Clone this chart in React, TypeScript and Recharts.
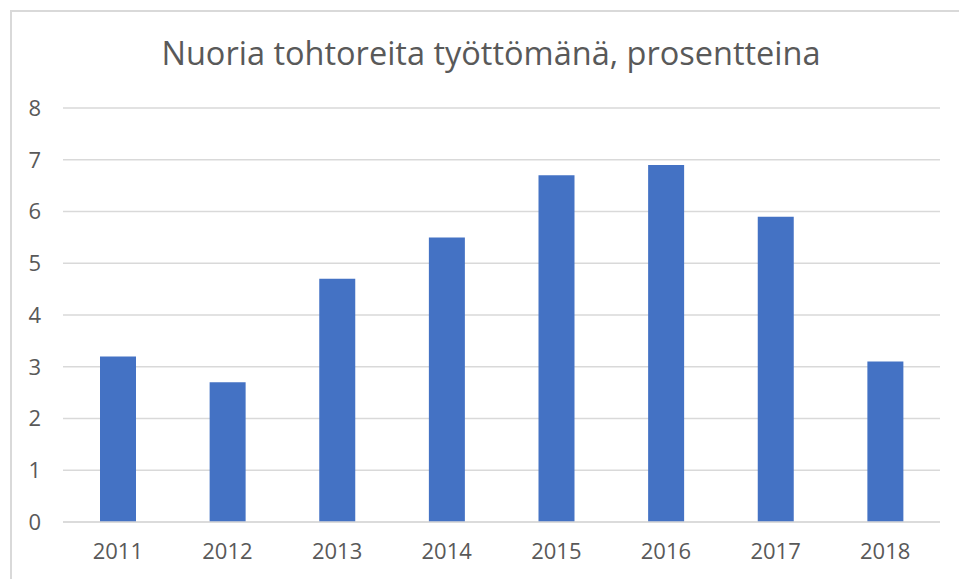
import { BarChart, Bar, XAxis, YAxis, CartesianGrid } from "recharts"

const years = ["2011", "2012", "2013", "2014", "2015", "2016", "2017", "2018"]
const unemployed = [3.2, 2.7, 4.7, 5.5, 6.7, 6.9, 5.9, 3.1]
const yTicks = [0, 1, 2, 3, 4, 5, 6, 7, 8]

const data = years.map((year, i) => ({ year, value: unemployed[i] }))

const font = "'Open Sans', sans-serif"

export default function App() {
  return (
    <div style={{ position: "absolute", left: 0, top: 0, width: 959, height: 579, overflow: "hidden", background: "#fff", fontFamily: font }}>
      <div style={{ position: "absolute", left: 10, top: 10, width: 1000, height: 700, border: "2px solid #d9d9d9" }} />
      <div style={{ position: "absolute", left: 0, top: 30, width: 982, textAlign: "center", fontSize: 32.5, color: "#595959" }}>
        Nuoria tohtoreita työttömänä, prosentteina
      </div>
      <div style={{ position: "absolute", left: 0, top: 0 }}>
        <BarChart width={959} height={579} data={data} margin={{ top: 108, right: 19, bottom: 27, left: 0 }} barCategoryGap={37}>
          <CartesianGrid vertical={false} stroke="#d9d9d9" strokeWidth={1.5} />
          <XAxis
            dataKey="year"
            height={30}
            axisLine={{ stroke: "#d9d9d9", strokeWidth: 1.5 }}
            tickLine={false}
            tickSize={0}
            tickMargin={21}
            tick={{ fill: "#595959", fontSize: 22, fontFamily: font }}
          />
          <YAxis
            width={63}
            domain={[0, 8]}
            ticks={yTicks}
            axisLine={false}
            tickLine={false}
            tickSize={0}
            tickMargin={22}
            tick={{ fill: "#595959", fontSize: 22, fontFamily: font }}
          />
          <Bar dataKey="value" fill="#4472C4" isAnimationActive={false} />
        </BarChart>
      </div>
    </div>
  )
}
